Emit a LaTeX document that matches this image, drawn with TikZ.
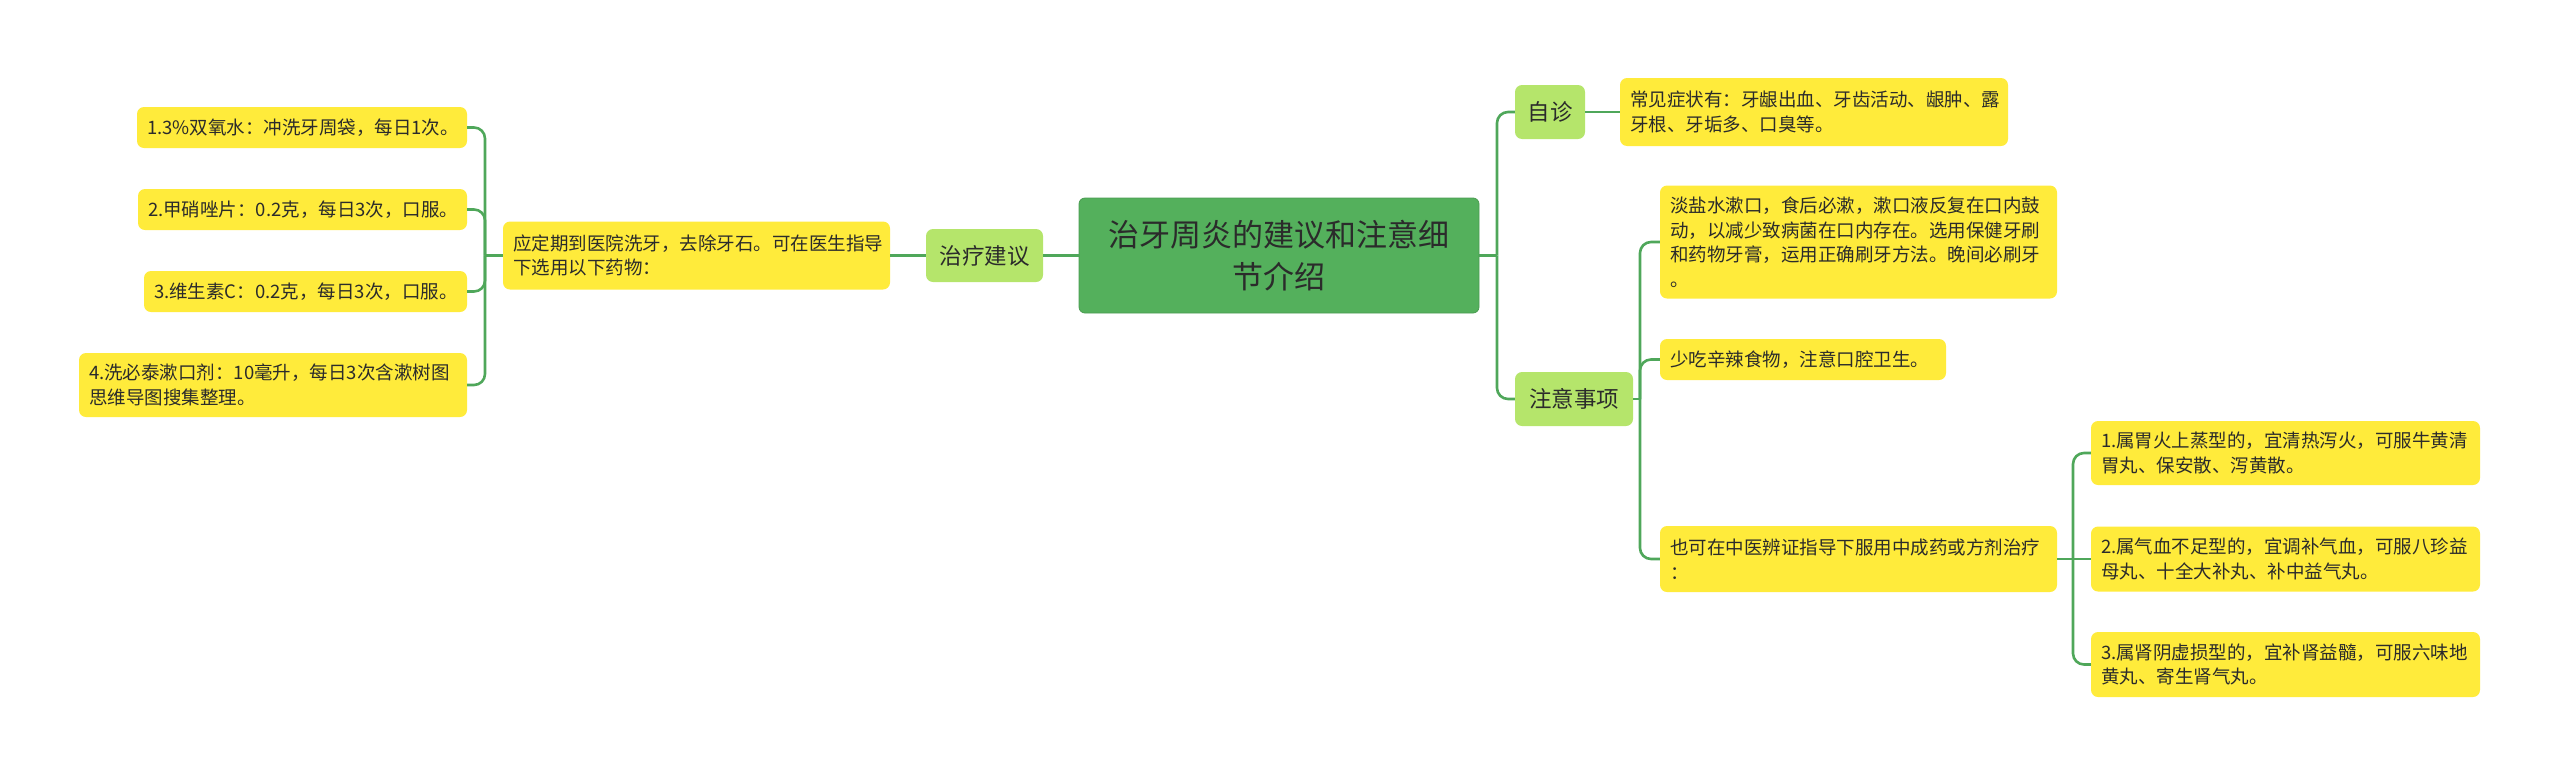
\documentclass[tikz,border=0pt]{standalone}
\usepackage{fontspec}
\newfontfamily\cjk{Noto Sans CJK SC}
\definecolor{rootc}{HTML}{54B05C}
\definecolor{subc}{HTML}{B5E56B}
\definecolor{leafc}{HTML}{FFEB3B}
\definecolor{linec}{HTML}{4FA75A}
\definecolor{txt}{HTML}{2B2B2B}
\tikzset{
  rootbox/.style 2 args={fill=rootc, draw=rootc!88!black, line width=0.8pt, rounded corners=6pt,
    minimum width=#1, minimum height=#2, inner sep=0pt, align=center, text=txt,
    font=\cjk\fontsize{31}{42}\selectfont},
  subbox/.style 2 args={fill=subc, draw=none, rounded corners=7pt,
    minimum width=#1, minimum height=#2, inner sep=0pt, align=center, text=txt,
    font=\cjk\fontsize{22.5}{28}\selectfont},
  leafbox/.style 2 args={fill=leafc, draw=none, rounded corners=7pt,
    text width=#1, minimum height=#2, inner xsep=10pt, inner ysep=0pt, align=left, text=txt,
    font=\cjk\fontsize{18.5}{24.5}\selectfont},
  conn/.style={draw=linec, line width=2.6pt, rounded corners=11pt},
}
\begin{document}
\begin{tikzpicture}[x=1pt,y=-1pt]
\useasboundingbox (0,0) rectangle (2560,777);
% nodes
\node[rootbox={400pt}{115pt}] (root) at (1279,255.5) {治牙周炎的建议和注意细\\节介绍};
\node[subbox={117pt}{53pt}] (zl) at (984.5,255.5) {治疗建议};
\node[leafbox={367pt}{68pt}] (adv) at (696.5,255.5) {应定期到医院洗牙，去除牙石。可在医生指导\\下选用以下药物：};
\node[leafbox={310pt}{41pt}] (l1) at (302,127.5) {1.3\%双氧水：冲洗牙周袋，每日1次。};
\node[leafbox={309pt}{41pt}] (l2) at (302.5,209.5) {2.甲硝唑片：0.2克，每日3次，口服。};
\node[leafbox={303pt}{41pt}] (l3) at (305.5,291.5) {3.维生素C：0.2克，每日3次，口服。};
\node[leafbox={368pt}{64pt}] (l4) at (273,385) {4.洗必泰漱口剂：10毫升，每日3次含漱树图\\思维导图搜集整理。};
\node[subbox={70pt}{54pt}] (zz) at (1550,112) {自诊};
\node[subbox={118pt}{54pt}] (zy) at (1574,399) {注意事项};
\node[leafbox={368pt}{68pt}] (cj) at (1814,112) {常见症状有：牙龈出血、牙齿活动、龈肿、露\\牙根、牙垢多、口臭等。};
\node[leafbox={377pt}{113pt}] (ds) at (1858.5,242) {淡盐水漱口，食后必漱，漱口液反复在口内鼓\\动，以减少致病菌在口内存在。选用保健牙刷\\和药物牙膏，运用正确刷牙方法。晚间必刷牙\\。};
\node[leafbox={266pt}{41pt}] (sc) at (1803,359.5) {少吃辛辣食物，注意口腔卫生。};
\node[leafbox={377pt}{66pt}] (ykz) at (1858.5,559) {也可在中医辨证指导下服用中成药或方剂治疗\\：};
\node[leafbox={369pt}{64pt}] (r1) at (2285.5,453) {1.属胃火上蒸型的，宜清热泻火，可服牛黄清\\胃丸、保安散、泻黄散。};
\node[leafbox={369pt}{65pt}] (r2) at (2285.5,559) {2.属气血不足型的，宜调补气血，可服八珍益\\母丸、十全大补丸、补中益气丸。};
\node[leafbox={369pt}{65pt}] (r3) at (2285.5,664.5) {3.属肾阴虚损型的，宜补肾益髓，可服六味地\\黄丸、寄生肾气丸。};
% junction coordinates
\coordinate (bl) at (485,255.5);
\coordinate (br) at (1497,255.5);
\coordinate (bz) at (1640,399);
\coordinate (by) at (2073,559);
% connectors
\draw[conn] (root.west) -- (zl.east);
\draw[conn] (zl.west) -- (adv.east);
\draw[conn] (adv.west) -- (bl);
\draw[conn] (bl) |- (l1.east);
\draw[conn] (bl) |- (l2.east);
\draw[conn] (bl) |- (l3.east);
\draw[conn] (bl) |- (l4.east);
\draw[conn] (root.east) -- (br);
\draw[conn] (br) |- (zz.west);
\draw[conn] (br) |- (zy.west);
\draw[conn] (zz.east) -- (cj.west);
\draw[conn] (zy.east) -- (bz);
\draw[conn] (bz) |- (ds.west);
\draw[conn] (bz) |- (sc.west);
\draw[conn] (bz) |- (ykz.west);
\draw[conn] (ykz.east) -- (by);
\draw[conn] (by) |- (r1.west);
\draw[conn] (by) -- (r2.west);
\draw[conn] (by) |- (r3.west);
\end{tikzpicture}
\end{document}
